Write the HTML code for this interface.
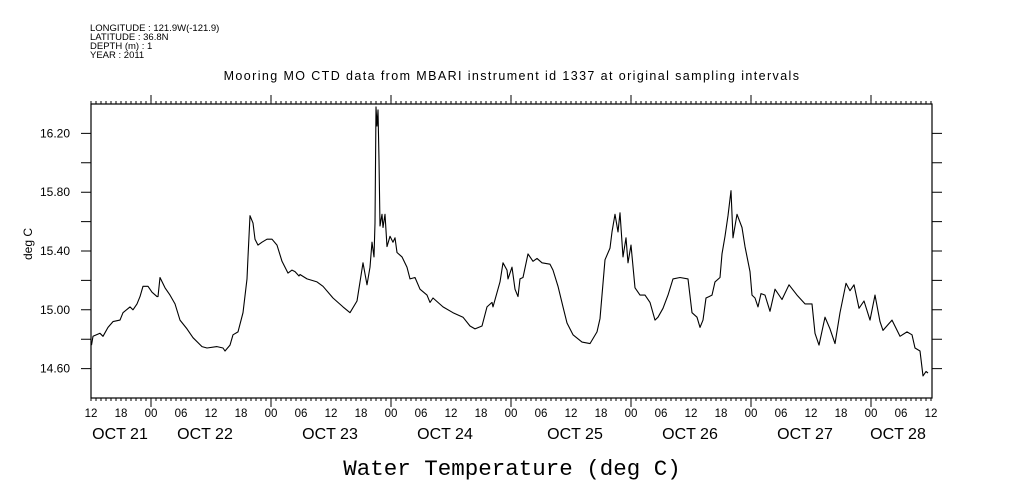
<!DOCTYPE html>
<html><head><meta charset="utf-8">
<style>
html,body{margin:0;padding:0;background:#fff;}
svg{display:block;}
text{font-family:"Liberation Sans",sans-serif;fill:#000;}
</style></head>
<body>
<svg id="chart" width="1009" height="504" viewBox="0 0 1009 504" xmlns="http://www.w3.org/2000/svg">
  <g>
    <text x="90" y="31" style="font-size:9.5px">LONGITUDE : 121.9W(-121.9)</text>
    <text x="90" y="40" style="font-size:9.5px">LATITUDE : 36.8N</text>
    <text x="90" y="49" style="font-size:9.5px">DEPTH (m) : 1</text>
    <text x="90" y="58" style="font-size:9.5px">YEAR : 2011</text>
  </g>
  <text x="512" y="80" text-anchor="middle" style="font-size:12.5px;letter-spacing:1.4px">Mooring MO CTD data from MBARI instrument id 1337 at original sampling intervals</text>
  <text transform="translate(32,244) rotate(-90)" text-anchor="middle" style="font-size:12px">deg C</text>
  <text x="512" y="475" text-anchor="middle" style="font-family:'Liberation Mono',monospace;font-size:22.5px">Water Temperature (deg C)</text>
  <g id="axes"></g>
  <g id="series"></g>
</svg>
<script>
const hours = [0.1,0.4,1.8,2.4,3.4,4.4,5.8,6.4,7.8,8.4,9.2,9.8,10.4,11.4,12.2,13.2,13.4,13.8,14.8,15.8,16.8,17.8,19.2,20.4,22.2,23.2,25.2,26.4,26.8,27.8,28.4,29.4,30.4,31.2,31.4,31.8,32.4,32.8,33.4,34.2,35.2,36.2,37.2,38.2,39.4,40.2,40.8,41.6,
41.8,43.2,45.2,46.4,48.4,50.4,51.8,53.2,53.8,54.4,55.2,55.8,56.2,56.6,56.8,57.0,57.2,57.4,57.6,57.8,58.2,58.4,58.8,59.2,59.8,60.4,60.8,61.2,62.2,63.2,63.8,64.8,65.8,67.2,67.8,68.4,70.4,72.4,74.4,75.8,76.8,78.2,79.2,80.2,80.4,81.8,82.4,83.2,
83.4,84.2,84.8,85.4,85.8,86.4,87.4,88.4,89.2,90.2,91.8,92.4,93.4,94.4,95.2,96.4,98.2,99.8,101.2,101.8,102.8,103.8,104.2,104.8,105.4,105.8,106.4,107.0,107.4,108.0,108.8,109.8,110.8,111.8,112.8,113.4,114.4,115.4,116.4,117.8,119.4,120.2,121.2,121.8,122.4,123.0,123.6,
124.2,124.8,125.8,126.2,126.8,127.4,128.0,128.4,129.2,130.2,130.8,131.8,132.2,132.8,133.4,134.0,134.8,135.8,136.8,138.2,139.6,141.2,142.8,144.2,144.8,145.6,146.8,147.8,148.8,149.8,151.0,151.8,152.6,153.6,154.6,155.8,156.8,157.8,158.4,160.2,161.8,163.2,164.2,164.8,165.8,166.4,167.0,167.4];
const temps = [14.76,14.82,14.84,14.82,14.88,14.92,14.93,14.98,15.02,15.00,15.04,15.09,15.16,15.16,15.12,15.09,15.09,15.22,15.15,15.10,15.04,14.93,14.87,14.81,14.75,14.74,14.75,14.74,14.72,14.76,14.83,14.85,14.98,15.21,15.36,15.64,15.59,15.48,15.44,15.46,15.48,15.48,15.44,15.33,15.25,15.27,15.26,15.23,
15.24,15.21,15.19,15.16,15.08,15.02,14.98,15.06,15.19,15.32,15.17,15.29,15.46,15.36,15.59,16.38,16.25,16.36,16.02,15.57,15.65,15.56,15.65,15.43,15.50,15.46,15.49,15.39,15.36,15.29,15.21,15.22,15.14,15.10,15.05,15.08,15.02,14.98,14.95,14.89,14.87,14.89,15.02,15.05,15.02,15.19,15.32,15.27,
15.21,15.29,15.14,15.09,15.21,15.22,15.38,15.33,15.35,15.32,15.31,15.27,15.16,15.02,14.91,14.83,14.78,14.77,14.85,14.94,15.34,15.42,15.53,15.65,15.53,15.66,15.36,15.49,15.32,15.44,15.15,15.10,15.10,15.05,14.93,14.95,15.01,15.10,15.21,15.22,15.21,14.98,14.95,14.88,14.93,15.08,15.09,
15.10,15.19,15.22,15.38,15.50,15.64,15.81,15.49,15.65,15.56,15.43,15.26,15.10,15.08,15.02,15.11,15.10,14.99,15.14,15.07,15.17,15.10,15.04,15.04,14.84,14.76,14.95,14.87,14.77,14.98,15.18,15.13,15.17,15.01,15.06,14.93,15.10,14.92,14.86,14.93,14.82,14.85,14.83,14.74,14.72,14.55,14.58,14.57];
const yTickValues = [14.6,14.8,15.0,15.2,15.4,15.6,15.8,16.0,16.2];
const yTickLabels = ["14.60","","15.00","","15.40","","15.80","","16.20"];
const hourLabels = ["12","18","00","06","12","18","00","06","12","18","00","06","12","18","00","06","12","18","00","06","12","18","00","06","12","18","00","06","12"];
const dayLabels = ["OCT 21","OCT 22","OCT 23","OCT 24","OCT 25","OCT 26","OCT 27","OCT 28"];
const dayLabelHours = [5.8,22.8,47.8,70.8,96.8,119.8,142.8,161.4];

const X0=91, PXH=5, Y0=398, PXV=147, VMIN=14.4;
const L=91, R=932, T=104, B=398;
function xs(h){return X0+h*PXH;}
function ys(v){return Y0-(v-VMIN)*PXV;}
const NS="http://www.w3.org/2000/svg";
const axes=document.getElementById('axes');
const series=document.getElementById('series');
function mk(tag,attrs,parent){const e=document.createElementNS(NS,tag);for(const k in attrs)e.setAttribute(k,attrs[k]);parent.appendChild(e);return e;}

const frame=mk('rect',{x:L,y:T,width:R-L,height:B-T,fill:'none',stroke:'#000','stroke-width':1.2},axes);



let d='';
for(let h=0;h<=168;h++){
  const x=xs(h);
  const major=((h+12)%24===0);
  const len=major?9:3;
  d+=`M${x} ${T}V${T-len}M${x} ${B}V${B+len}`;
}
const xt=mk('path',{d:d,stroke:'#000','stroke-width':1,fill:'none'},axes);



let dy='';
yTickValues.forEach(v=>{const y=ys(v);dy+=`M${L-10} ${y}H${L}M${R} ${y}H${R+10}`;});
const yt=mk('path',{d:dy,stroke:'#000','stroke-width':1,fill:'none'},axes);



yTickValues.forEach((v,i)=>{
  if(!yTickLabels[i])return;
  const t=mk('text',{x:70,y:ys(v)+4,'text-anchor':'end',style:'font-size:12px'},axes);
  t.textContent=yTickLabels[i];
  
  
});
hourLabels.forEach((s,i)=>{
  const t=mk('text',{x:xs(i*6),y:417,'text-anchor':'middle',style:'font-size:11.5px'},axes);
  t.textContent=s;
  
  
});
dayLabels.forEach((s,i)=>{
  const t=mk('text',{x:xs(dayLabelHours[i]),y:439,'text-anchor':'middle',style:'font-size:16px'},axes);
  t.textContent=s;
  
  
});

const pts=hours.map((h,i)=>xs(h).toFixed(1)+','+ys(temps[i]).toFixed(1)).join(' ');
const line=mk('polyline',{points:pts,fill:'none',stroke:'#000','stroke-width':1.1,'stroke-linejoin':'round'},series);


</script>
</body></html>
